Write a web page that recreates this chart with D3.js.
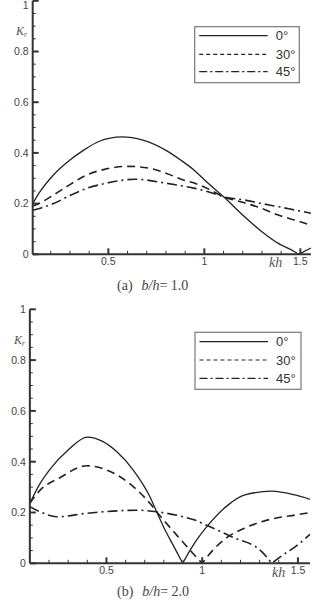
<!DOCTYPE html>
<html><head><meta charset="utf-8">
<script src="https://cdn.jsdelivr.net/npm/d3@7"></script>
<style>
html,body{margin:0;padding:0;background:#fff;}
svg{display:block;}
</style></head>
<body>
<script>
// ---------- DATA ----------
const seriesNames = ["0°", "30°", "45°"];
const yTickValues = [0, 0.2, 0.4, 0.6, 0.8, 1];
const yTickLabels = ["0", "0.2", "0.4", "0.6", "0.8", "1"];
const xTickValues = [0.5, 1, 1.5];
const xTickLabels = ["0.5", "1", "1.5"];
const captions = ["b/h= 1.0", "b/h= 2.0"];
const captionTags = ["(a)", "(b)"];

// panel (a) b/h = 1.0
const a0_kh = [0.106,0.144,0.214,0.3,0.37,0.45,0.57,0.68,0.8,0.88,0.95,1.02,1.1,1.21,1.3,1.385,1.47,1.49,1.555];
const a0_kr = [0.2,0.247,0.313,0.372,0.41,0.445,0.463,0.45,0.41,0.37,0.33,0.28,0.227,0.148,0.089,0.043,0.01,0,0.025];
const a30_kh = [0.106,0.15,0.214,0.3,0.387,0.48,0.6,0.717,0.8,0.89,0.951,1.02,1.1,1.2,1.3,1.385,1.47,1.555];
const a30_kr = [0.19,0.205,0.234,0.275,0.313,0.335,0.347,0.339,0.32,0.293,0.28,0.258,0.227,0.205,0.181,0.155,0.135,0.115];
const a45_kh = [0.106,0.15,0.214,0.3,0.387,0.48,0.64,0.804,0.951,1.02,1.1,1.21,1.3,1.385,1.47,1.555];
const a45_kr = [0.174,0.183,0.2,0.232,0.26,0.279,0.296,0.28,0.26,0.247,0.227,0.214,0.2,0.188,0.175,0.162];

// panel (b) b/h = 2.0
const b0_kh = [0.1,0.15,0.205,0.3,0.4,0.48,0.553,0.64,0.727,0.762,0.815,0.86,0.898,0.95,1.032,1.136,1.223,1.363,1.485,1.563];
const b0_kr = [0.236,0.31,0.37,0.446,0.497,0.48,0.44,0.367,0.262,0.203,0.118,0.055,0,0.068,0.151,0.23,0.269,0.284,0.269,0.252];
const b30_kh = [0.1,0.15,0.257,0.397,0.55,0.64,0.727,0.762,0.867,0.936,1.0,1.06,1.136,1.22,1.311,1.4,1.485,1.563];
const b30_kr = [0.236,0.285,0.337,0.384,0.35,0.302,0.236,0.203,0.111,0.052,0,0.055,0.105,0.138,0.164,0.18,0.19,0.2];
const b45_kh = [0.1,0.153,0.24,0.397,0.57,0.66,0.762,0.901,0.962,1.032,1.162,1.311,1.363,1.42,1.485,1.563];
const b45_kr = [0.223,0.203,0.183,0.197,0.207,0.209,0.203,0.183,0.17,0.147,0.102,0.046,0,0.032,0.065,0.114];

// ---------- LAYOUT ----------
const W = 315, H = 600;
const svg = d3.select("body").append("svg").attr("width", W).attr("height", H);
const INK = "#222";
const SANS = "'Liberation Sans', Arial, sans-serif";
const SERIF = "'Liberation Serif', 'Times New Roman', serif";

const styles = [
  {dash: null, width: 1.3, legendDash: null},
  {dash: "8,5", width: 1.6, legendDash: "4,3"},
  {dash: "10,4,2,4", width: 1.6, legendDash: "8,3,2,3"}
];

const panels = [
  {xDom:[0.106,1.555], xRange:[32.7,310.9], yRange:[254.3,0.8],
   series:[[a0_kh,a0_kr],[a30_kh,a30_kr],[a45_kh,a45_kr]],
   legend:{x:194.7,y:26.7,w:104.6,h:56, rows:[35.7,54.3,71.7]},
   kr:{x:16,y:35}, kh:{x:269,y:267}, cap:{x:117,y:290}, tickBase:265},
  {xDom:[0.1,1.563], xRange:[29.85,310.0], yRange:[563.3,309.3],
   series:[[b0_kh,b0_kr],[b30_kh,b30_kr],[b45_kh,b45_kr]],
   legend:{x:195,y:332.3,w:106,h:57, rows:[341.7,360,378.3]},
   kr:{x:14,y:344}, kh:{x:272,y:577}, cap:{x:117,y:596}, tickBase:574}
];

panels.forEach((p, pi) => {
  const x = d3.scaleLinear().domain(p.xDom).range(p.xRange);
  const y = d3.scaleLinear().domain([0,1]).range(p.yRange);
  const g = svg.append("g");

  // curves
  const line = d3.line().x(d => x(d[0])).y(d => y(d[1])).curve(d3.curveMonotoneX);
  p.series.forEach((s, si) => {
    const pts = s[0].map((k, i) => [k, s[1][i]]);
    // split at interior zeros (cusps)
    const segs = [];
    let cur = [];
    pts.forEach((pt, i) => {
      cur.push(pt);
      if (pt[1] === 0 && i > 0 && i < pts.length - 1) { segs.push(cur); cur = [pt]; }
    });
    segs.push(cur);
    const d = segs.map((sg, i) => i ? line(sg).replace(/^M/, "L") : line(sg)).join("");
    const path = g.append("path").attr("d", d).attr("fill", "none")
      .attr("stroke", INK).attr("stroke-width", styles[si].width)
      .attr("stroke-linejoin", "round");
    if (styles[si].dash) path.attr("stroke-dasharray", styles[si].dash);
  });

  // y axis
  const x0 = p.xRange[0], yb = p.yRange[0];
  g.append("line").attr("x1", x0).attr("x2", x0).attr("y1", y(1)).attr("y2", yb)
    .attr("stroke", "#333").attr("stroke-width", 2);
  d3.range(0, 21).forEach(i => {
    const v = i * 0.05;
    const major = i % 4 === 0;
    g.append("line").attr("x1", x0).attr("x2", x0 + (major ? 6 : 3))
      .attr("y1", y(v)).attr("y2", y(v))
      .attr("stroke", "#333").attr("stroke-width", major ? 2 : 1);
  });
  yTickValues.forEach((v, i) => {
    g.append("text").attr("x", x0 - 4).attr("y", Math.max(y(v) + 3.8, 9))
      .attr("text-anchor", "end").attr("font-family", SANS).attr("font-size", 10.5)
      .attr("fill", "#444").text(yTickLabels[i]);
  });

  // x axis
  g.append("line").attr("x1", x0).attr("x2", p.xRange[1]).attr("y1", yb).attr("y2", yb)
    .attr("stroke", "#333").attr("stroke-width", 2);
  d3.range(2, 16).forEach(i => {
    const k = i / 10;
    if (k < p.xDom[0] || k > p.xDom[1]) return;
    const major = i % 5 === 0;
    g.append("line").attr("x1", x(k)).attr("x2", x(k)).attr("y1", yb).attr("y2", yb - (major ? 6 : 3.5))
      .attr("stroke", "#333").attr("stroke-width", major ? 2 : 1);
  });
  xTickValues.forEach((v, i) => {
    g.append("text").attr("x", x(v)).attr("y", p.tickBase)
      .attr("text-anchor", "middle").attr("font-family", SANS).attr("font-size", 10.5)
      .attr("fill", "#444").text(xTickLabels[i]);
  });

  // axis titles
  const kr = g.append("text").attr("x", p.kr.x).attr("y", p.kr.y)
    .attr("font-family", SERIF).attr("font-style", "italic").attr("font-size", 12).attr("fill", "#555");
  kr.append("tspan").text("K");
  kr.append("tspan").attr("font-size", 7.5).attr("dy", 1.5).text("r");
  g.append("text").attr("x", p.kh.x).attr("y", p.kh.y)
    .attr("font-family", SERIF).attr("font-style", "italic").attr("font-size", 14)
    .attr("fill", "#555").text("kh");

  // legend
  const L = p.legend;
  g.append("rect").attr("x", L.x).attr("y", L.y).attr("width", L.w).attr("height", L.h)
    .attr("fill", "#fff").attr("stroke", "#777").attr("stroke-width", 1.2);
  seriesNames.forEach((nm, si) => {
    const ln = g.append("line").attr("x1", L.x + 4.5).attr("x2", L.x + 73)
      .attr("y1", L.rows[si]).attr("y2", L.rows[si])
      .attr("stroke", INK).attr("stroke-width", 1.2);
    if (styles[si].legendDash) ln.attr("stroke-dasharray", styles[si].legendDash);
    g.append("text").attr("x", L.x + 81).attr("y", L.rows[si] + 4.6)
      .attr("font-family", SANS).attr("font-size", 13).attr("fill", "#333").text(nm);
  });

  // caption
  const cap = g.append("text").attr("x", p.cap.x).attr("y", p.cap.y)
    .attr("font-family", SERIF).attr("font-size", 14).attr("fill", "#444");
  cap.append("tspan").text(captionTags[pi]);
  const parts = captions[pi].split(" ");
  cap.append("tspan").attr("dx", 9).attr("font-style", "italic").text(parts[0].replace("=", ""));
  cap.append("tspan").text("= " + parts[1]);
});
</script>
</body></html>
